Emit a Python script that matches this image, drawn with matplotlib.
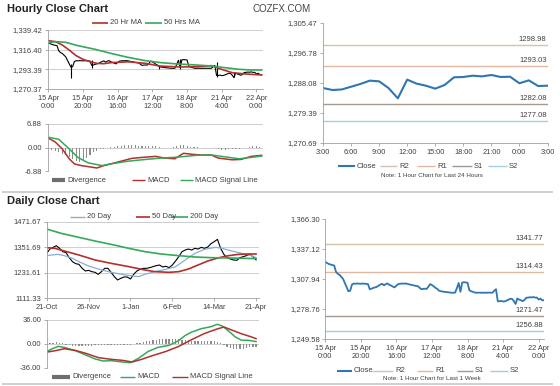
import matplotlib
matplotlib.use('Agg')
import matplotlib.pyplot as plt
from matplotlib.lines import Line2D

plt.rcParams['font.family'] = ['Liberation Sans', 'DejaVu Sans']

# ---- hourly data (1 bar = 1 hour, 15 Apr 0:00 -> 22 Apr 3:00) ----
close_h = [
    1324.5, 1323.5, 1322.5, 1322.0, 1321.5, 1321.0, 1315.0, 1313.0, 1312.0, 1310.0,
    1308.0, 1304.0, 1300.0, 1296.0, 1296.5, 1302.5, 1303.5, 1303.3, 1303.6, 1303.4,
    1303.3, 1303.5, 1303.4, 1303.2, 1303.0, 1298.0, 1298.5, 1299.3, 1299.8, 1300.3,
    1301.5, 1302.5, 1303.3, 1301.8, 1303.0, 1303.6, 1302.2, 1301.6, 1300.5, 1299.8,
    1301.5, 1303.0, 1303.3, 1303.5, 1303.4, 1303.6, 1303.3, 1302.8, 1302.4, 1302.0,
    1301.6, 1301.2, 1301.0, 1299.5, 1298.0, 1298.3, 1298.5, 1298.3, 1300.5, 1303.0,
    1302.0, 1300.8, 1299.3, 1298.3, 1296.5, 1296.0, 1295.8, 1295.4, 1295.3, 1295.0,
    1294.8, 1294.6, 1294.6, 1294.7, 1299.0, 1304.0, 1295.5, 1304.5, 1304.8, 1304.6,
    1304.3, 1297.0, 1296.0, 1295.5, 1294.8, 1294.6, 1294.6, 1294.7, 1294.6, 1294.6,
    1294.6, 1294.6, 1294.7, 1294.6, 1294.6, 1296.5, 1298.0, 1286.3, 1286.2, 1286.63,
    1286.05, 1286.2, 1287.0, 1287.8, 1288.76, 1288.56, 1286.63, 1283.64, 1289.05, 1287.9,
    1287.3, 1286.44, 1287.5, 1289.72, 1289.82, 1290.2, 1290.0, 1290.4, 1289.82, 1289.9,
    1288.0, 1288.85, 1287.2, 1287.3]
# hourly wicks visible on the candle chart
wick_idx = [13, 25, 64, 76, 97, 107]
wick_lo = [1283.0, 1295.0, 1294.0, 1293.5, 1284.8, 1284.0]
wick_hi = [1300.0, 1304.0, 1298.0, 1306.0, 1302.0, 1290.0]

ma20_h_idx = [0, 4, 8, 12, 16, 20, 24, 28, 32, 36, 46, 56, 64, 76, 86, 94, 98, 106, 114, 123]
ma20_h = [1326.9, 1325.8, 1321.9, 1316.0, 1309.4, 1305.1, 1302.4, 1300.4, 1300.0, 1301.2,
          1302.2, 1300.4, 1297.3, 1296.1, 1296.5, 1297.7, 1294.6, 1289.5, 1287.9, 1286.8]
ma50_h_idx = [0, 4, 10, 17, 27, 36, 46, 56, 65, 75, 85, 94, 102, 110, 117, 123]
ma50_h = [1324.5, 1325.8, 1325.0, 1321.1, 1316.8, 1312.1, 1307.4, 1303.5, 1301.2, 1299.6,
          1298.5, 1297.3, 1295.3, 1293.4, 1292.6, 1292.6]

macd_h_idx = [0, 4, 8, 12, 15, 19, 23, 28, 32, 36, 42, 48, 54, 62, 67, 73, 76, 78, 83, 88,
              94, 98, 106, 111, 117, 123]
macd_h = [2.75, 1.6, -0.4, -3.3, -4.8, -5.3, -5.6, -6.0, -5.3, -4.8, -4.0, -3.2, -2.9, -2.6,
          -3.1, -3.3, -2.3, -1.7, -2.0, -2.2, -2.2, -3.1, -3.6, -3.5, -2.6, -2.3]
signal_h_idx = [0, 6, 12, 17, 23, 31, 36, 46, 56, 65, 75, 85, 94, 100, 110, 117, 123]
signal_h = [3.0, 2.4, -0.4, -2.9, -4.5, -5.3, -4.8, -4.0, -3.5, -3.1, -2.8, -2.3, -2.2, -2.6,
            -3.3, -2.9, -2.5]
div_h = [-0.3, -0.6, -1.0, -1.4, -1.8, -2.3, -2.8, -3.4, -3.9, -4.3,
         -4.0, -3.0, -2.2, -1.4, -0.9, -0.5, -0.3, -0.1, 0.1, 0.2,
         0.3, 0.5, 0.6, 0.7, 0.7, 0.6, 0.5, 0.4, 0.3, 0.3,
         0.4, 0.3, 0.1, 0.0, -0.1, -0.1, 0.1, 0.5, 0.8, 0.7,
         0.4, 0.2, 0.1, 0.1, 0.0, 0.0, 0.0, 0.0, -0.2, -0.4,
         -0.6, -0.6, -0.5, -0.5, -0.4, -0.3, -0.2, 0.0, 0.2, 0.3,
         0.3, 0.2]

hour_ticks = ['15 Apr\n0:00', '15 Apr\n20:00', '16 Apr\n16:00', '17 Apr\n12:00',
              '18 Apr\n8:00', '21 Apr\n4:00', '22 Apr\n0:00']
day24_ticks = ['3:00', '6:00', '9:00', '12:00', '15:00', '18:00', '21:00', '0:00', '3:00']

level_names = ['R2', 'R1', 'S1', 'S2']
levels_24h = [1298.98, 1293.03, 1282.08, 1277.08]
levels_wk = [1341.77, 1314.43, 1271.47, 1256.88]

# ---- daily data (every 2nd trading day, 21-Oct -> 21-Apr) ----
close_d = [1322.8, 1343.2, 1351.0, 1358.9, 1346.3, 1330.7, 1326.0, 1302.5, 1283.7, 1274.3,
           1271.2, 1252.3, 1239.8, 1242.9, 1236.7, 1233.5, 1224.1, 1236.7, 1252.3, 1252.3,
           1233.5, 1213.2, 1197.5, 1205.3, 1211.6, 1211.6, 1202.2, 1224.1, 1239.8, 1247.6,
           1252.3, 1252.3, 1255.5, 1260.2, 1264.9, 1268.0, 1258.6, 1261.7, 1255.5, 1268.0,
           1286.8, 1307.2, 1330.7, 1338.5, 1343.2, 1338.5, 1346.3, 1343.2, 1351.0, 1346.3,
           1352.6, 1368.3, 1377.7, 1388.6, 1346.3, 1318.1, 1302.5, 1296.2, 1291.5, 1289.9,
           1302.5, 1307.2, 1311.9, 1318.1, 1307.2, 1292.0]
ma20_d_idx = [0, 3, 7, 11, 16, 20, 26, 32, 40, 49, 57, 61, 67, 74, 80, 86, 92, 98, 105, 109,
              115, 121, 127, 130]
ma20_d = [1311.9, 1315.0, 1318.1, 1311.9, 1299.3, 1283.7, 1263.3, 1249.2, 1233.5, 1221.0,
          1213.2, 1224.1, 1236.7, 1247.6, 1260.2, 1291.5, 1322.8, 1341.6, 1351.0, 1346.3,
          1333.8, 1322.8, 1311.9, 1302.5]
ma50_d_idx = [0, 5, 11, 20, 30, 40, 51, 61, 67, 76, 82, 88, 94, 100, 107, 113, 119, 125, 130]
ma50_d = [1349.5, 1346.3, 1333.8, 1315.0, 1291.5, 1275.8, 1260.2, 1244.5, 1236.7, 1233.5,
          1236.7, 1249.2, 1268.0, 1286.8, 1302.5, 1311.9, 1318.1, 1319.7, 1319.7]
ma200_d_idx = [0, 9, 20, 30, 40, 51, 61, 71, 82, 92, 102, 113, 123, 130]
ma200_d = [1437.2, 1416.8, 1398.0, 1380.8, 1365.1, 1346.3, 1330.7, 1319.7, 1311.9, 1305.6,
           1302.5, 1300.9, 1299.3, 1297.8]

macd_d_idx = [0, 3, 7, 11, 18, 24, 30, 35, 40, 47, 52, 57, 63, 69, 76, 82, 86, 90, 96, 102,
              106, 109, 113, 117, 121, 125, 130]
macd_d = [-11.2, -7.7, -3.6, -5.1, -10.2, -16.3, -22.4, -25.5, -25.0, -27.0, -28.0, -21.4,
          -11.2, -5.1, -2.0, 5.1, 12.8, 17.9, 23.0, 26.0, 29.6, 27.0, 19.4, 10.7, 5.6, 5.6, 3.6]
signal_d_idx = [0, 5, 11, 18, 24, 32, 40, 47, 53, 59, 65, 74, 82, 90, 98, 105, 110, 115, 121,
                127, 130]
signal_d = [-12.2, -10.2, -7.1, -9.7, -13.8, -20.4, -23.0, -24.5, -27.0, -23.0, -17.9, -11.2,
            -3.6, 6.6, 15.8, 21.9, 25.5, 20.9, 15.3, 10.7, 8.0]
div_d = [-1, 1, 2, 3, 2, 1, -1, -2, -3, -3,
         -3, -3, -3, -3, -3, -2, -2, -2, -1, -1,
         -1, -1, -2, -2, -1, -1, -1, 0, 1, 2,
         3, 4, 5, 6, 6, 7, 7, 7, 7, 7,
         7, 7, 6, 6, 6, 5, 5, 5, 5, 4,
         4, 4, 4, 3, 1, -2, -4, -6, -7, -8,
         -8, -7, -6, -5, -4, -4]
day_ticks = ['21-Oct', '26-Nov', '1-Jan', '6-Feb', '14-Mar', '21-Apr']

# colours
RED = '#b3302c'
GREEN = '#35a85a'
BLUE = '#2f76b2'
LBLUE = '#86aed6'
GRAY = '#8c8c8c'
LEVEL_C = ['#d5c4ad', '#e0b8a2', '#a39a92', '#a3cde0']
TXT = '#404040'

W, H = 560, 386
fig = plt.figure(figsize=(5.6, 3.86), dpi=100)


def box(x0, y0, x1, y1):
    return [x0 / W, 1 - y1 / H, (x1 - x0) / W, (y1 - y0) / H]


def ptext(x, y, s, **kw):
    kw.setdefault('fontsize', 5.5)
    kw.setdefault('color', TXT)
    kw.setdefault('va', 'center')
    fig.text(x / W, 1 - y / H, s, **kw)


def pline(x0, x1, y, color, lw=1.0):
    fig.add_artist(Line2D([x0 / W, x1 / W], [1 - y / H, 1 - y / H], color=color, lw=lw,
                          solid_capstyle='butt'))


def legend_row(y, items):
    for x0, x1, color, lw, label in items:
        pline(x0, x1, y, color, lw)
        ptext(x1 + 2, y, label)


def make_axes(rect, yticks, ylabels, xlim, grid=True):
    ax = fig.add_axes(box(*rect))
    ax.set_xlim(*xlim)
    ax.set_ylim(yticks[0], yticks[-1])
    ax.set_yticks(yticks)
    ax.set_yticklabels(ylabels)
    if grid:
        ax.grid(axis='y', color='#c6c6c6', lw=0.6)
    ax.set_axisbelow(True)
    ax.patch.set_alpha(0)
    for s in ['top', 'right']:
        ax.spines[s].set_visible(False)
    for s in ['left', 'bottom']:
        ax.spines[s].set_color('#a0a0a0')
        ax.spines[s].set_linewidth(0.6)
    ax.tick_params(axis='both', labelsize=5.5, labelcolor=TXT, color='#a0a0a0',
                   length=2, width=0.6, pad=2)
    return ax


# ================= hourly close (top left) =================
ax = make_axes((47.5, 30, 262.5, 89), [1270.37, 1293.39, 1316.40, 1339.42],
               ['1,270.37', '1,293.39', '1,316.40', '1,339.42'], (-0.5, 123.5))
ax.plot(range(len(close_h)), close_h, color='k', lw=0.8)
ax.vlines(wick_idx, wick_lo, wick_hi, color='k', lw=0.8)
ax.plot(ma20_h_idx, ma20_h, color=RED, lw=1.2)
ax.plot(ma50_h_idx, ma50_h, color=GREEN, lw=1.2)
ax.set_xticks(range(0, 121, 20))
ax.set_xticklabels(hour_ticks, fontsize=5.3, linespacing=1.3)

# hourly MACD
ax = make_axes((47.5, 124, 262.5, 171), [-6.88, 0.0, 6.88], ['-6.88', '0.00', '6.88'],
               (-0.5, 123.5))
ax.bar(range(0, 123, 2), div_h, width=0.6, color=GRAY, lw=0)
ax.plot(macd_h_idx, macd_h, color=RED, lw=1.1)
ax.plot(signal_h_idx, signal_h, color=GREEN, lw=1.1)
ax.tick_params(axis='x', length=0, labelbottom=False)
ax.spines['bottom'].set_visible(False)

# ================= daily close (bottom left) =================
ax = make_axes((46.7, 221.7, 258.5, 298.3), [1111.33, 1231.61, 1351.69, 1471.67],
               ['1111.33', '1231.61', '1351.69', '1471.67'], (0, 131.5))
ax.plot(range(0, 131, 2), close_d, color='k', lw=0.8)
ax.plot(ma20_d_idx, ma20_d, color=LBLUE, lw=0.9)
ax.plot(ma50_d_idx, ma50_d, color=RED, lw=1.2)
ax.plot(ma200_d_idx, ma200_d, color=GREEN, lw=1.2)
ax.set_xticks(range(0, 131, 26))
ax.set_xticklabels(day_ticks, fontsize=5.3)

# daily MACD
ax = make_axes((46.7, 320, 258.5, 368), [-36.0, 0.0, 36.0], ['-36.00', '0.00', '36.00'],
               (0, 131.5))
ax.bar(range(0, 131, 2), div_d, width=0.8, color=GRAY, lw=0)
ax.plot(macd_d_idx, macd_d, color=GREEN, lw=1.1)
ax.plot(signal_d_idx, signal_d, color=RED, lw=1.1)
ax.tick_params(axis='x', length=0, labelbottom=False)
ax.spines['bottom'].set_visible(False)

# ================= last 24 hours (top right) =================
ax = make_axes((323, 23, 547.5, 143), [1270.69, 1279.39, 1288.08, 1296.78, 1305.47],
               ['1,270.69', '1,279.39', '1,288.08', '1,296.78', '1,305.47'], (0, 24), grid=False)
for lv, c in zip(levels_24h, LEVEL_C):
    ax.axhline(lv, color=c, lw=1.0)
    ax.text(23.9, lv + 0.6, f'{lv:.2f}', ha='right', va='bottom', fontsize=5.5, color=TXT)
ax.plot(range(25), close_h[99:], color=BLUE, lw=1.5)
ax.set_xticks(range(0, 25, 3))
ax.set_xticklabels(day24_ticks, fontsize=5.3)

# ================= last week (bottom right) =================
ax = make_axes((325.3, 219, 544, 339), [1249.58, 1278.76, 1307.94, 1337.12, 1366.30],
               ['1,249.58', '1,278.76', '1,307.94', '1,337.12', '1,366.30'], (0, 123), grid=False)
for lv, c in zip(levels_wk, LEVEL_C):
    ax.axhline(lv, color=c, lw=1.0)
    ax.text(122.5, lv + 2.0, f'{lv:.2f}', ha='right', va='bottom', fontsize=5.5, color=TXT)
ax.plot(range(len(close_h)), close_h, color=BLUE, lw=1.3)
ax.set_xticks(range(0, 121, 20))
ax.set_xticklabels(hour_ticks, fontsize=5.3, linespacing=1.3)

# ================= titles, legends, notes =================
ptext(7, 9, 'Hourly Close Chart', fontsize=8, fontweight='bold', color='#222222')
ptext(7, 201, 'Daily Close Chart', fontsize=8, fontweight='bold', color='#222222')
ptext(282, 9, 'COZFX.COM', fontsize=7, color='#444444', ha='center')

pline(2, 553, 192, '#c8c8c8', 1.2)
pline(2, 553, 384, '#c8c8c8', 1.2)

legend_row(23, [(92, 108, RED, 1.2, '20 Hr MA'), (145, 162, GREEN, 1.2, '50 Hrs MA')])
legend_row(180, [(52, 65, '#6e6e6e', 3, 'Divergence'), (132, 145, RED, 1, 'MACD'),
                 (180, 193, GREEN, 1, 'MACD Signal Line')])
legend_row(216.5, [(70, 85, LBLUE, 1, '20 Day'), (136, 150, RED, 1.2, '50 Day'),
                   (172, 188, GREEN, 1.2, '200 Day')])
legend_row(377, [(52, 70, '#6e6e6e', 3, 'Divergence'), (120, 135, GREEN, 1, 'MACD'),
                 (172, 188, RED, 1, 'MACD Signal Line')])

right_legend = [(338, 355), (380, 397), (417, 435), (452, 472), (488, 507)]
legend_row(166, [(x0, x1, c, lw, n) for (x0, x1), c, lw, n in
                 zip(right_legend, [BLUE] + LEVEL_C, [1.5, 1, 1, 1, 1], ['Close'] + level_names)])
right_legend2 = [(337, 352), (372, 393), (417, 433), (457, 473), (490, 508)]
legend_row(371, [(x0, x1, c, lw, n) for (x0, x1), c, lw, n in
                 zip(right_legend2, [BLUE] + LEVEL_C, [1.5, 1, 1, 1, 1], ['Close'] + level_names)])
ptext(432, 175, 'Note: 1 Hour Chart for Last 24 Hours', fontsize=4.5, ha='center')
ptext(432, 378.5, 'Note: 1 Hour Chart for Last 1 Week', fontsize=4.5, ha='center')

fig.savefig('out.png', dpi=100)
